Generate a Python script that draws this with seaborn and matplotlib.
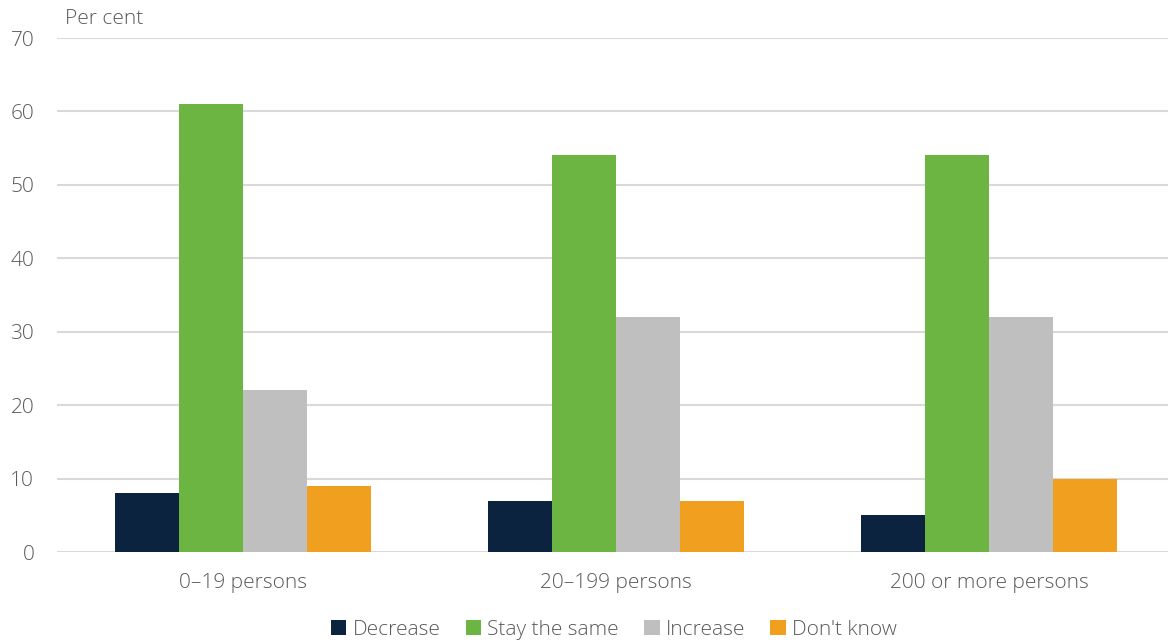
import matplotlib
matplotlib.use("Agg")
import matplotlib.pyplot as plt
import seaborn as sns
import pandas as pd

categories = ["0–19 persons", "20–199 persons", "200 or more persons"]
series = ["Decrease", "Stay the same", "Increase", "Don't know"]
decrease = [8, 7, 5]
stay_same = [61, 54, 54]
increase = [22, 32, 32]
dont_know = [9, 7, 10]
colors = ["#0C2340", "#6DB543", "#BFBFBF", "#F0A01E"]
yticks = [0, 10, 20, 30, 40, 50, 60, 70]

rows = []
for s, vals in zip(series, [decrease, stay_same, increase, dont_know]):
    for c, v in zip(categories, vals):
        rows.append({"category": c, "series": s, "value": v})
df = pd.DataFrame(rows)

sns.set_theme(style="white")
plt.rcParams["font.family"] = ["Open Sans", "DejaVu Sans"]
plt.rcParams["font.weight"] = "light"

fig = plt.figure(figsize=(11.68, 6.44), dpi=100)
ax = fig.add_axes([56.5/1168, 1 - 552/644, 1119/1168, (552 - 38)/644])

sns.barplot(data=df, x="category", y="value", hue="series", order=categories,
            hue_order=series, palette=colors, width=0.686, gap=0, saturation=1,
            linewidth=0, edgecolor="none", ax=ax, legend=True)

ax.set_ylim(0, 70)
ax.set_xlim(-0.5, 2.5)
ax.set_yticks(yticks)
ax.set_yticklabels([str(t) for t in yticks])
ax.grid(axis="y", color="#D9D9D9", linewidth=1.5)
ax.set_axisbelow(True)
for sp in ax.spines.values():
    sp.set_visible(False)
ax.tick_params(axis="both", length=0, labelsize=15, colors="#595959")
ax.tick_params(axis="y", pad=16)
ax.tick_params(axis="x", pad=15)
ax.set_xlabel("")
ax.set_ylabel("")
fig.text(65/1168, 1 - 19/644, "Per cent", fontsize=15, color="#595959",
         va="center", ha="left", fontweight="light")

handles, labels = ax.get_legend_handles_labels()
ax.legend_.remove()
fig.legend(handles, labels, loc="center", bbox_to_anchor=(614/1168, 1 - 630/644),
           ncol=4, frameon=False, fontsize=15, handlelength=0.75, handleheight=0.75,
           handletextpad=0.3, columnspacing=1.2, labelcolor="#595959")

fig.savefig("out.png", dpi=100)
